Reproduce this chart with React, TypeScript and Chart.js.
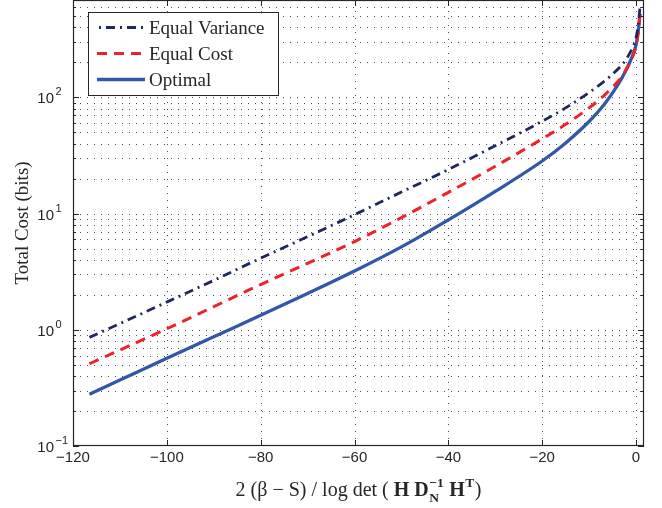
import { useEffect, useRef } from 'react';
import { Chart, registerables } from 'chart.js';

Chart.register(...registerables);

// ---- data ----
const xValues = [-116.5, -110, -100, -90, -80, -70, -60, -50, -40, -30, -20, -15, -10, -7, -5, -3, -2, -1, 0, 0.5, 0.85];
const equalVariance = [0.86, 1.13, 1.73, 2.66, 4.13, 6.32, 9.77, 15.3, 23.9, 38.3, 62.2, 81.1, 110, 135, 158, 190, 216, 254, 324, 427, 600];
const equalCost = [0.51, 0.67, 1.02, 1.58, 2.45, 3.73, 5.74, 9.23, 15.2, 25.5, 43.9, 58.5, 81, 102, 122, 151, 176, 211, 275, 372, 525];
const optimal = [0.279, 0.369, 0.569, 0.871, 1.33, 2.05, 3.2, 5.16, 8.81, 15.5, 28.3, 40.5, 61.9, 84.5, 109, 147, 175, 215, 282, 380, 525];

const seriesLabels = ['Equal Variance', 'Equal Cost', 'Optimal'];
const xTicks = [-120, -100, -80, -60, -40, -20, 0];
const xTickLabels = ['−120', '−100', '−80', '−60', '−40', '−20', '0'];
const yTicks = [0.1, 1, 10, 100];
const yTickExponents = ['−1', '0', '1', '2'];
const yAxisTitle = 'Total Cost (bits)';
const xTitleParts = [
  { text: '2 (β − S) / log det ( ', bold: false },
  { text: 'H D', bold: true },
  { sup: '−1', sub: 'N', bold: true },
  { text: ' H', bold: true },
  { sup: 'T', bold: true },
  { text: ')', bold: false },
];

const X_MIN = -120;
const X_MAX = 1.7;
const Y_MIN = 0.1;
const Y_MAX = 687;

const SERIF = '"Liberation Serif", "Times New Roman", serif';
const SANS = '"Liberation Sans", Arial, sans-serif';
const TEXT = '#262626';
const AXIS = '#262626';
const GRID = '#505050';

const styles = [
  { color: '#1d2860', width: 2.8, dash: [9, 5, 2, 5] },
  { color: '#ef2129', width: 3, dash: [10, 7] },
  { color: '#3257a8', width: 3.3, dash: [] as number[] },
];

function minorValues(): number[] {
  const out: number[] = [];
  for (let e = -1; e <= 2; e++) {
    for (let m = 2; m <= 9; m++) {
      const v = m * Math.pow(10, e);
      if (v < Y_MAX) out.push(v);
    }
  }
  return out;
}

const decorPlugin = {
  id: 'matlabDecor',
  beforeDatasetsDraw(chart: any) {
    const { ctx, chartArea: a, scales } = chart;
    const xs = scales.x;
    const ys = scales.y;
    ctx.save();
    ctx.beginPath();
    ctx.rect(a.left, a.top, a.right - a.left, a.bottom - a.top);
    ctx.clip();
    ctx.strokeStyle = GRID;
    ctx.lineWidth = 1;
    ctx.setLineDash([1, 6]);
    for (const v of xTicks) {
      const px = Math.round(xs.getPixelForValue(v)) + 0.5;
      ctx.beginPath();
      ctx.moveTo(px, a.bottom);
      ctx.lineTo(px, a.top);
      ctx.stroke();
    }
    const yGrid = [...yTicks, ...minorValues()];
    for (const v of yGrid) {
      const py = Math.round(ys.getPixelForValue(v)) + 0.5;
      ctx.beginPath();
      ctx.moveTo(a.left, py);
      ctx.lineTo(a.right, py);
      ctx.stroke();
    }
    ctx.restore();
  },
  afterDatasetsDraw(chart: any) {
    const { ctx, chartArea: a, scales } = chart;
    const xs = scales.x;
    const ys = scales.y;
    ctx.save();
    ctx.setLineDash([]);
    // box
    ctx.strokeStyle = AXIS;
    ctx.lineWidth = 1.2;
    ctx.strokeRect(a.left + 0.5, a.top + 0.5, a.right - a.left - 1, a.bottom - a.top - 1);
    // ticks
    ctx.lineWidth = 1;
    ctx.beginPath();
    for (const v of xTicks) {
      const px = Math.round(xs.getPixelForValue(v)) + 0.5;
      ctx.moveTo(px, a.bottom);
      ctx.lineTo(px, a.bottom - 6);
      ctx.moveTo(px, a.top);
      ctx.lineTo(px, a.top + 6);
    }
    for (const v of yTicks) {
      const py = Math.round(ys.getPixelForValue(v)) + 0.5;
      ctx.moveTo(a.left, py);
      ctx.lineTo(a.left + 6, py);
      ctx.moveTo(a.right, py);
      ctx.lineTo(a.right - 6, py);
    }
    for (const v of minorValues()) {
      const py = Math.round(ys.getPixelForValue(v)) + 0.5;
      ctx.moveTo(a.left, py);
      ctx.lineTo(a.left + 3, py);
      ctx.moveTo(a.right, py);
      ctx.lineTo(a.right - 3, py);
    }
    ctx.stroke();

    // x tick labels
    ctx.fillStyle = TEXT;
    ctx.font = `15px ${SANS}`;
    ctx.textAlign = 'center';
    ctx.textBaseline = 'top';
    xTicks.forEach((v, i) => {
      ctx.fillText(xTickLabels[i], xs.getPixelForValue(v), a.bottom + 4);
    });
    // y tick labels 10^n
    yTicks.forEach((v, i) => {
      const py = ys.getPixelForValue(v);
      ctx.font = `15px ${SANS}`;
      ctx.textAlign = 'right';
      ctx.textBaseline = 'middle';
      ctx.fillText('10', 54, py + 2);
      ctx.font = `11px ${SANS}`;
      ctx.textAlign = 'left';
      ctx.fillText(yTickExponents[i], 55.5, py - 5);
    });

    // y axis title
    ctx.save();
    ctx.translate(23, (a.top + a.bottom) / 2);
    ctx.rotate(-Math.PI / 2);
    ctx.font = `19px ${SERIF}`;
    ctx.textAlign = 'center';
    ctx.textBaseline = 'middle';
    ctx.fillText(yAxisTitle, 0, 0);
    ctx.restore();

    // x axis title (rich text)
    const big = 20;
    const small = 13.5;
    const font = (b: boolean, s: number) => `${b ? 'bold ' : ''}${s}px ${SERIF}`;
    let total = 0;
    const widths: number[] = [];
    for (const p of xTitleParts as any[]) {
      let w = 0;
      if (p.text !== undefined) {
        ctx.font = font(p.bold, big);
        w = ctx.measureText(p.text).width;
      } else {
        ctx.font = font(p.bold, small);
        const ws = p.sup ? ctx.measureText(p.sup).width : 0;
        const wb = p.sub ? ctx.measureText(p.sub).width : 0;
        w = Math.max(ws, wb) + 1;
      }
      widths.push(w);
      total += w;
    }
    let cx = (a.left + a.right) / 2 - total / 2;
    const base = 496;
    ctx.textAlign = 'left';
    ctx.textBaseline = 'alphabetic';
    (xTitleParts as any[]).forEach((p, i) => {
      if (p.text !== undefined) {
        ctx.font = font(p.bold, big);
        ctx.fillText(p.text, cx, base);
      } else {
        ctx.font = font(p.bold, small);
        if (p.sup) ctx.fillText(p.sup, cx + 0.5, base - 9);
        if (p.sub) ctx.fillText(p.sub, cx + 0.5, base + 6);
      }
      cx += widths[i];
    });

    // legend
    const lx = 88;
    const ly = 12;
    const lw = 190;
    const lh = 83;
    ctx.fillStyle = '#ffffff';
    ctx.fillRect(lx, ly, lw, lh);
    ctx.strokeStyle = AXIS;
    ctx.lineWidth = 1;
    ctx.strokeRect(lx + 0.5, ly + 0.5, lw, lh);
    chart.data.datasets.forEach((ds: any, i: number) => {
      const rowY = 27.5 + i * 26;
      ctx.save();
      ctx.strokeStyle = ds.borderColor;
      ctx.lineWidth = ds.borderWidth;
      ctx.setLineDash(ds.borderDash || []);
      if (i === 0) ctx.lineDashOffset = 12;
      ctx.beginPath();
      ctx.moveTo(97, rowY);
      ctx.lineTo(145, rowY);
      ctx.stroke();
      ctx.restore();
      ctx.fillStyle = TEXT;
      ctx.font = `19px ${SERIF}`;
      ctx.textAlign = 'left';
      ctx.textBaseline = 'alphabetic';
      ctx.fillText(ds.label, 149, rowY + 6.5);
    });
    ctx.restore();
  },
};

export default function App() {
  const ref = useRef<HTMLCanvasElement | null>(null);
  useEffect(() => {
    if (!ref.current) return;
    const series = [equalVariance, equalCost, optimal];
    const chart = new Chart(ref.current, {
      type: 'line',
      data: {
        datasets: series.map((vals, i) => ({
          label: seriesLabels[i],
          data: xValues.map((x, j) => ({ x, y: vals[j] })),
          borderColor: styles[i].color,
          backgroundColor: styles[i].color,
          borderWidth: styles[i].width,
          borderDash: styles[i].dash,
          pointRadius: 0,
          fill: false,
          cubicInterpolationMode: 'monotone' as const,
        })),
      },
      options: {
        responsive: false,
        animation: false,
        events: [],
        layout: { padding: { left: 73, right: 18, top: 0, bottom: 62 } },
        plugins: { legend: { display: false }, tooltip: { enabled: false }, title: { display: false } },
        scales: {
          x: { type: 'linear', min: X_MIN, max: X_MAX, display: false },
          y: { type: 'logarithmic', min: Y_MIN, max: Y_MAX, display: false },
        },
      },
      plugins: [decorPlugin],
    });
    return () => chart.destroy();
  }, []);
  return (
    <div style={{ position: 'fixed', left: 0, top: 0, width: 662, height: 508, background: '#fff' }}>
      <canvas ref={ref} width={662} height={508} style={{ display: 'block' }} />
    </div>
  );
}
